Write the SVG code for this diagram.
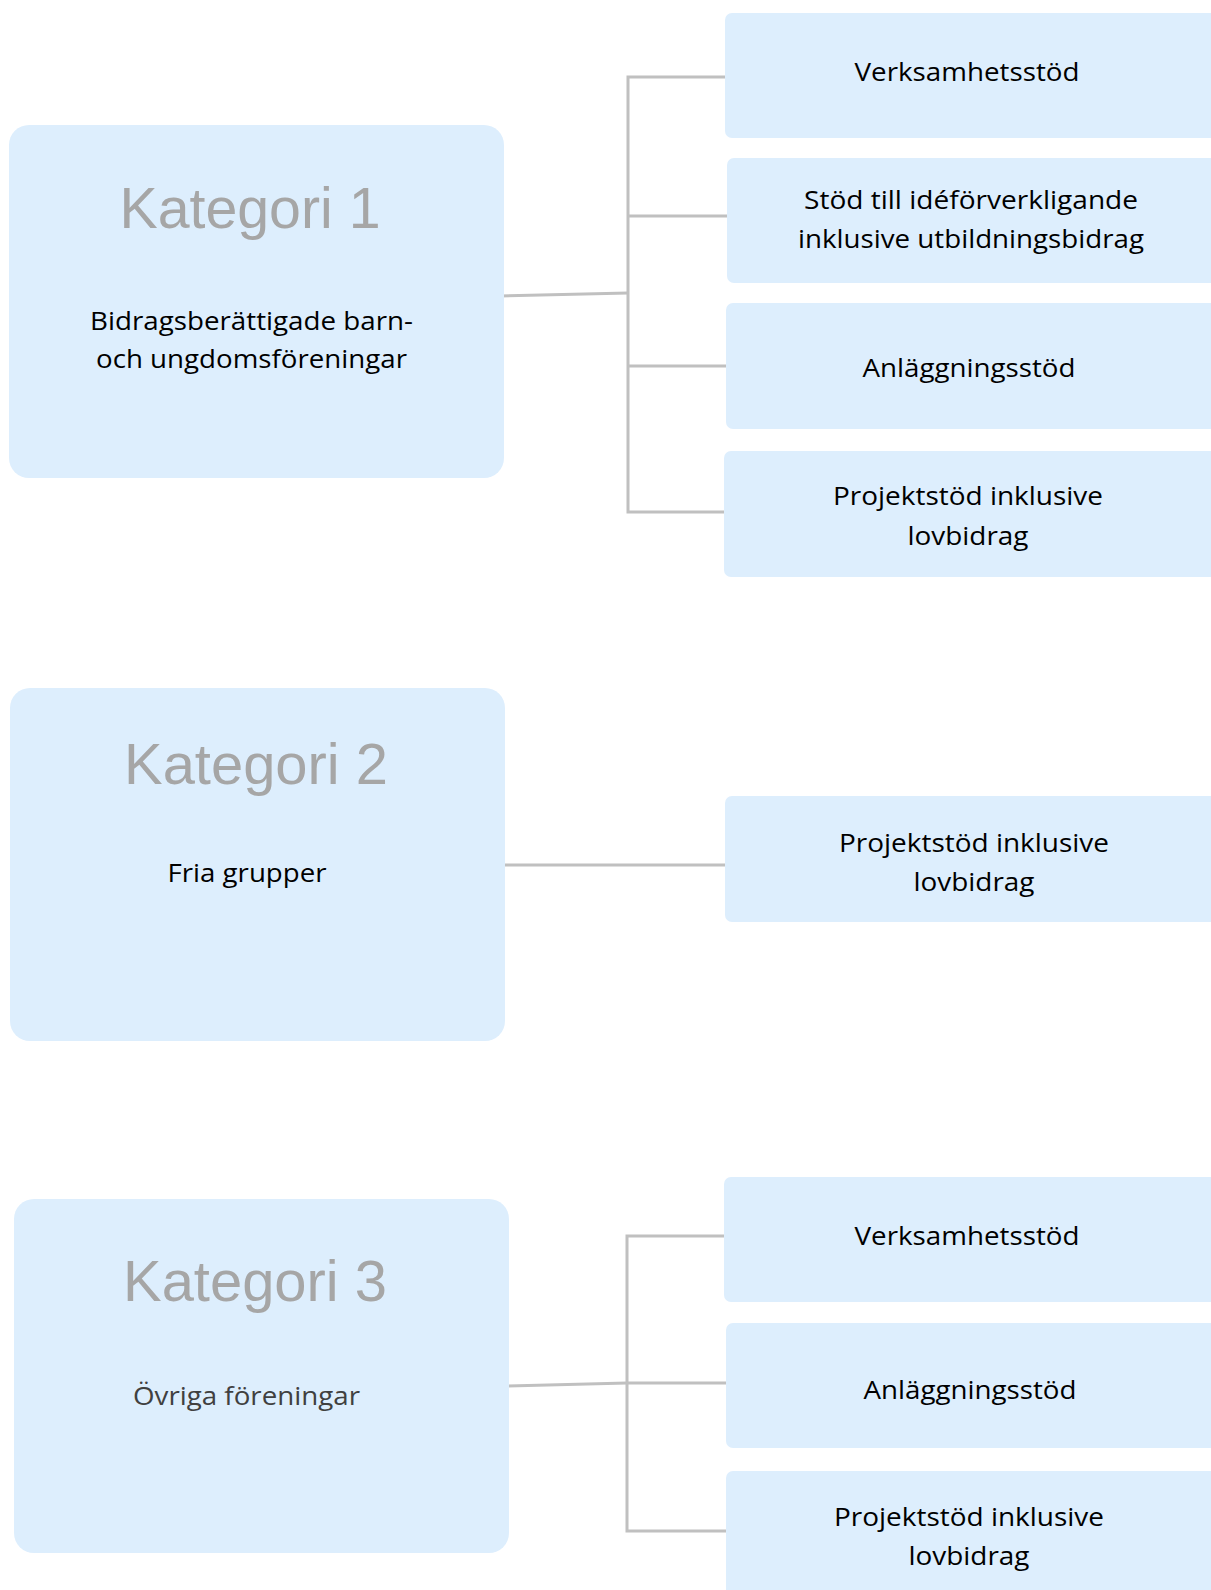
<svg xmlns="http://www.w3.org/2000/svg" width="1211" height="1590" viewBox="0 0 1211 1590">
<style>
.cat{fill:#ddeefd;}
.sub{fill:#ddeefd;}
.title{font-family:"Liberation Sans",Arial,sans-serif;font-size:57px;fill:#a6a6a6;text-anchor:middle;}
.lbl{font-family:"Open Sans","Noto Sans",sans-serif;font-size:26px;fill:#000;text-anchor:middle;}
.lbl3{font-family:"Open Sans","Noto Sans",sans-serif;font-size:26px;fill:#404040;text-anchor:middle;}
.conn{stroke:#c0c0c0;stroke-width:3;fill:none;}
</style>
<rect width="1211" height="1590" fill="#ffffff"/>
<g id="connectors">
<polyline class="conn" points="500,296 628,293"/>
<polyline class="conn" points="725,77 628,77 628,512 725,512"/>
<line class="conn" x1="628" y1="216" x2="727" y2="216"/>
<line class="conn" x1="628" y1="366" x2="726" y2="366"/>
<line class="conn" x1="505" y1="865" x2="725" y2="865"/>
<polyline class="conn" points="506,1386 627,1383"/>
<polyline class="conn" points="725,1236 627,1236 627,1531 726,1531"/>
<line class="conn" x1="627" y1="1383" x2="726" y2="1383"/>
</g>
<g id="kategori1">
<rect class="cat" x="9" y="125" width="495" height="353" rx="20"/>
<text class="title" x="250" y="228" textLength="261" lengthAdjust="spacingAndGlyphs">Kategori 1</text>
<text class="lbl" x="251.5" y="330" textLength="323" lengthAdjust="spacingAndGlyphs">Bidragsberättigade barn-</text>
<text class="lbl" x="251.5" y="368" textLength="311" lengthAdjust="spacingAndGlyphs">och ungdomsföreningar</text>
</g>
<g id="k1-verksamhetsstod">
<rect class="sub" x="725" y="13" width="500" height="125" rx="7"/>
<text class="lbl" x="967" y="81" textLength="225" lengthAdjust="spacingAndGlyphs">Verksamhetsstöd</text>
</g>
<g id="k1-idestod">
<rect class="sub" x="727" y="158" width="500" height="125" rx="7"/>
<text class="lbl" x="971" y="209" textLength="334" lengthAdjust="spacingAndGlyphs">Stöd till idéförverkligande</text>
<text class="lbl" x="971" y="248" textLength="346" lengthAdjust="spacingAndGlyphs">inklusive utbildningsbidrag</text>
</g>
<g id="k1-anlaggningsstod">
<rect class="sub" x="726" y="303" width="500" height="126" rx="7"/>
<text class="lbl" x="969" y="377" textLength="213" lengthAdjust="spacingAndGlyphs">Anläggningsstöd</text>
</g>
<g id="k1-projektstod">
<rect class="sub" x="724" y="451" width="500" height="126" rx="7"/>
<text class="lbl" x="968" y="505" textLength="270" lengthAdjust="spacingAndGlyphs">Projektstöd inklusive</text>
<text class="lbl" x="968" y="545" textLength="121" lengthAdjust="spacingAndGlyphs">lovbidrag</text>
</g>
<g id="kategori2">
<rect class="cat" x="10" y="688" width="495" height="353" rx="20"/>
<text class="title" x="256" y="784" textLength="264" lengthAdjust="spacingAndGlyphs">Kategori 2</text>
<text class="lbl" x="247" y="882" textLength="159" lengthAdjust="spacingAndGlyphs">Fria grupper</text>
</g>
<g id="k2-projektstod">
<rect class="sub" x="725" y="796" width="500" height="126" rx="7"/>
<text class="lbl" x="974" y="852" textLength="270" lengthAdjust="spacingAndGlyphs">Projektstöd inklusive</text>
<text class="lbl" x="974" y="891" textLength="121" lengthAdjust="spacingAndGlyphs">lovbidrag</text>
</g>
<g id="kategori3">
<rect class="cat" x="14" y="1199" width="495" height="354" rx="20"/>
<text class="title" x="255" y="1301" textLength="264" lengthAdjust="spacingAndGlyphs">Kategori 3</text>
<text class="lbl3" x="246.5" y="1405" textLength="227" lengthAdjust="spacingAndGlyphs">Övriga föreningar</text>
</g>
<g id="k3-verksamhetsstod">
<rect class="sub" x="724" y="1177" width="500" height="125" rx="7"/>
<text class="lbl" x="967" y="1245" textLength="225" lengthAdjust="spacingAndGlyphs">Verksamhetsstöd</text>
</g>
<g id="k3-anlaggningsstod">
<rect class="sub" x="726" y="1323" width="500" height="125" rx="7"/>
<text class="lbl" x="970" y="1399" textLength="213" lengthAdjust="spacingAndGlyphs">Anläggningsstöd</text>
</g>
<g id="k3-projektstod">
<rect class="sub" x="726" y="1471" width="500" height="140" rx="7"/>
<text class="lbl" x="969" y="1526" textLength="270" lengthAdjust="spacingAndGlyphs">Projektstöd inklusive</text>
<text class="lbl" x="969" y="1565" textLength="121" lengthAdjust="spacingAndGlyphs">lovbidrag</text>
</g>
</svg>
